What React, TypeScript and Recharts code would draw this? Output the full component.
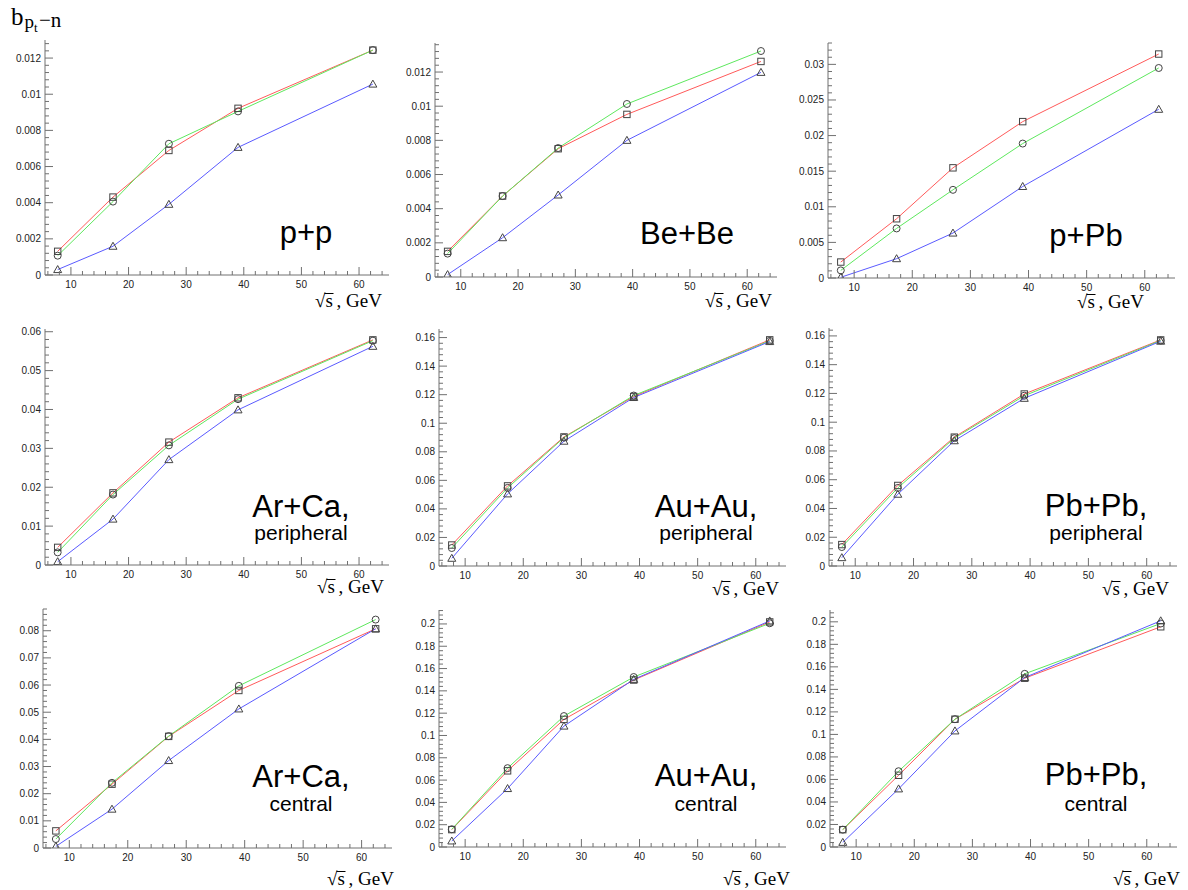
import React from 'react';
import { LineChart, Line, XAxis, YAxis } from 'recharts';

// ---------- data ----------
const sqrtS = [7.7, 17.3, 27, 39, 62.4];
const xMajorTicks = [10, 20, 30, 40, 50, 60];

// p+p
const ppSquare = [0.00131, 0.00431, 0.00689, 0.00922, 0.01244];
const ppCircle = [0.00107, 0.00406, 0.00726, 0.00905, 0.01244];
const ppTriangle = [0.0003, 0.00159, 0.00391, 0.00706, 0.01056];
// Be+Be
const bebeSquare = [0.0015, 0.00474, 0.00751, 0.00952, 0.01262];
const bebeCircle = [0.00137, 0.00474, 0.00755, 0.01013, 0.01323];
const bebeTriangle = [0.00014, 0.0023, 0.0048, 0.008, 0.01198];
// p+Pb
const ppbSquare = [0.00224, 0.00832, 0.01547, 0.02196, 0.03145];
const ppbCircle = [0.00107, 0.00696, 0.01238, 0.01888, 0.02949];
const ppbTriangle = [0.0001, 0.00271, 0.00631, 0.01285, 0.02369];
// Ar+Ca peripheral
const arcaPerSquare = [0.00453, 0.01855, 0.0316, 0.043, 0.0579];
const arcaPerCircle = [0.00325, 0.01812, 0.03077, 0.04265, 0.0577];
const arcaPerTriangle = [0.00085, 0.0118, 0.0271, 0.0399, 0.05624];
// Au+Au peripheral
const auauPerSquare = [0.0147, 0.0561, 0.0904, 0.1187, 0.1584];
const auauPerCircle = [0.0126, 0.0547, 0.0899, 0.1194, 0.1577];
const auauPerTriangle = [0.0054, 0.0505, 0.0874, 0.118, 0.1572];
// Pb+Pb peripheral
const pbpbPerSquare = [0.0149, 0.056, 0.0896, 0.1196, 0.1572];
const pbpbPerCircle = [0.0132, 0.0543, 0.0889, 0.1184, 0.1568];
const pbpbPerTriangle = [0.0058, 0.0499, 0.0871, 0.1166, 0.1563];
// Ar+Ca central
const arcaCenSquare = [0.0063, 0.0235, 0.0411, 0.058, 0.0807];
const arcaCenCircle = [0.0033, 0.024, 0.0412, 0.0597, 0.0841];
const arcaCenTriangle = [0.0006, 0.0143, 0.0322, 0.0512, 0.0807];
// Au+Au central
const auauCenSquare = [0.0156, 0.0683, 0.1144, 0.1497, 0.2018];
const auauCenCircle = [0.0159, 0.0707, 0.1174, 0.1524, 0.2006];
const auauCenTriangle = [0.0054, 0.0524, 0.1084, 0.1503, 0.2027];
// Pb+Pb central
const pbpbCenSquare = [0.0154, 0.0637, 0.1135, 0.1499, 0.1956];
const pbpbCenCircle = [0.0154, 0.0673, 0.1135, 0.1538, 0.1985];
const pbpbCenTriangle = [0.0041, 0.0516, 0.1031, 0.1505, 0.2009];

// y tick labels
const yTicksSmall = [0, 0.002, 0.004, 0.006, 0.008, 0.01, 0.012];
const yTicksPPb = [0, 0.005, 0.01, 0.015, 0.02, 0.025, 0.03];
const yTicksArCaPer = [0, 0.01, 0.02, 0.03, 0.04, 0.05, 0.06];
const yTicksPer = [0, 0.02, 0.04, 0.06, 0.08, 0.1, 0.12, 0.14, 0.16];
const yTicksArCaCen = [0, 0.01, 0.02, 0.03, 0.04, 0.05, 0.06, 0.07, 0.08];
const yTicksCen = [0, 0.02, 0.04, 0.06, 0.08, 0.1, 0.12, 0.14, 0.16, 0.18, 0.2];

const titles = ['p+p', 'Be+Be', 'p+Pb', 'Ar+Ca,', 'Au+Au,', 'Pb+Pb,', 'Ar+Ca,', 'Au+Au,', 'Pb+Pb,'];
const subtitles = ['', '', '', 'peripheral', 'peripheral', 'peripheral', 'central', 'central', 'central'];

const panels = [
  { sq: ppSquare, ci: ppCircle, tr: ppTriangle, yMajors: yTicksSmall, yMinor: 0.0004, yMax: 0.013 },
  { sq: bebeSquare, ci: bebeCircle, tr: bebeTriangle, yMajors: yTicksSmall, yMinor: 0.0004, yMax: 0.0137 },
  { sq: ppbSquare, ci: ppbCircle, tr: ppbTriangle, yMajors: yTicksPPb, yMinor: 0.001, yMax: 0.033 },
  { sq: arcaPerSquare, ci: arcaPerCircle, tr: arcaPerTriangle, yMajors: yTicksArCaPer, yMinor: 0.002, yMax: 0.0607 },
  { sq: auauPerSquare, ci: auauPerCircle, tr: auauPerTriangle, yMajors: yTicksPer, yMinor: 0.004, yMax: 0.166 },
  { sq: pbpbPerSquare, ci: pbpbPerCircle, tr: pbpbPerTriangle, yMajors: yTicksPer, yMinor: 0.004, yMax: 0.1655 },
  { sq: arcaCenSquare, ci: arcaCenCircle, tr: arcaCenTriangle, yMajors: yTicksArCaCen, yMinor: 0.002, yMax: 0.088 },
  { sq: auauCenSquare, ci: auauCenCircle, tr: auauCenTriangle, yMajors: yTicksCen, yMinor: 0.004, yMax: 0.2125 },
  { sq: pbpbCenSquare, ci: pbpbCenCircle, tr: pbpbCenTriangle, yMajors: yTicksCen, yMinor: 0.004, yMax: 0.2105 },
];

// ---------- layout ----------
const frames = [
  { L: 45, T: 40, R: 389, B: 275 },
  { L: 435, T: 43, R: 777, B: 277 },
  { L: 828, T: 43, R: 1175, B: 278 },
  { L: 45, T: 329, R: 389, B: 565 },
  { L: 439, T: 329, R: 786, B: 566 },
  { L: 829, T: 328, R: 1177, B: 566 },
  { L: 43, T: 609, R: 392, B: 848 },
  { L: 439, T: 610, R: 786, B: 847 },
  { L: 830, T: 610, R: 1177, B: 847 },
];
const titlePos = [
  { cx: 306, by: 243, sy: 0 },
  { cx: 687, by: 244, sy: 0 },
  { cx: 1086, by: 246, sy: 0 },
  { cx: 301, by: 517, sy: 540 },
  { cx: 706, by: 517, sy: 540 },
  { cx: 1096, by: 516, sy: 540 },
  { cx: 301, by: 787, sy: 811 },
  { cx: 706, by: 786, sy: 811 },
  { cx: 1096, by: 785, sy: 811 },
];
const xLabelPos = [
  { x: 315, y: 307 },
  { x: 705, y: 307 },
  { x: 1077, y: 308 },
  { x: 317, y: 593 },
  { x: 712, y: 595 },
  { x: 1102, y: 595 },
  { x: 327, y: 885 },
  { x: 723, y: 885 },
  { x: 1113, y: 885 },
];

const X_DOMAIN: [number, number] = [5.5, 65.2];
const AX = '#707070';
const LBL = '#222';
const SANS = 'Liberation Sans, Arial, Helvetica, sans-serif';
const SERIF = 'Liberation Serif, Times New Roman, serif';
const RED = '#ff5a5a';
const GREEN = '#5ee85e';
const BLUE = '#5a5aff';
const MK = '#444';

const fmt = (v: number) => String(parseFloat(v.toFixed(5)));

function stepTicks(step: number, from: number, to: number) {
  const out: number[] = [];
  for (let k = Math.ceil(from / step - 1e-9); k * step <= to + 1e-12; k++) out.push(parseFloat((k * step).toFixed(6)));
  return out;
}
const xAllTicks = stepTicks(2, X_DOMAIN[0], X_DOMAIN[1]);

const isIn = (arr: number[], v: number) => arr.some((m) => Math.abs(m - v) < 1e-9);

const makeYTick = (majors: number[]) => (p: any) => {
  const v = p.payload.value;
  const maj = isIn(majors, v);
  const len = maj ? 8 : 4;
  return (
    <g key={`yt${p.index}`}>
      <line x1={p.x} y1={p.y} x2={p.x + len} y2={p.y} stroke={AX} strokeWidth={1} />
      {maj && (
        <text x={p.x - 4} y={p.y} dy="0.35em" textAnchor="end" fontSize={10} fill={LBL} fontFamily={SANS}>
          {fmt(v)}
        </text>
      )}
    </g>
  );
};

const XTick = (p: any) => {
  const v = p.payload.value;
  const maj = isIn(xMajorTicks, v);
  const len = maj ? 8 : 4;
  return (
    <g key={`xt${p.index}`}>
      <line x1={p.x} y1={p.y} x2={p.x} y2={p.y - len} stroke={AX} strokeWidth={1} />
      {maj && (
        <text x={p.x} y={p.y + 13} textAnchor="middle" fontSize={10} fill={LBL} fontFamily={SANS}>
          {fmt(v)}
        </text>
      )}
    </g>
  );
};

const squareDot = (p: any) =>
  p.cx == null ? <g key={`s${p.index}`} /> : (
    <rect key={`s${p.index}`} x={p.cx - 3.2} y={p.cy - 3.2} width={6.4} height={6.4} fill="none" stroke={MK} strokeWidth={1} />
  );
const circleDot = (p: any) =>
  p.cx == null ? <g key={`c${p.index}`} /> : (
    <circle key={`c${p.index}`} cx={p.cx} cy={p.cy} r={3.5} fill="none" stroke={MK} strokeWidth={1} />
  );
const triangleDot = (p: any) =>
  p.cx == null ? <g key={`t${p.index}`} /> : (
    <path key={`t${p.index}`} d={`M${p.cx},${p.cy - 4} L${p.cx - 4},${p.cy + 3} L${p.cx + 4},${p.cy + 3} Z`} fill="none" stroke={MK} strokeWidth={1} />
  );

function Panel({ idx }: { idx: number }) {
  const cfg = panels[idx];
  const f = frames[idx];
  const data = sqrtS.map((x, i) => ({ x, sq: cfg.sq[i], ci: cfg.ci[i], tr: cfg.tr[i] }));
  const yl = 50;
  const mt = 5;
  const mr = 5;
  const xh = 25;
  const W = f.R - f.L;
  const H = f.B - f.T;
  const yAll = stepTicks(cfg.yMinor, 0, cfg.yMax);
  return (
    <div style={{ position: 'absolute', left: f.L - yl, top: f.T - mt }}>
      <LineChart width={yl + W + mr} height={mt + H + xh} data={data} margin={{ top: mt, right: mr, bottom: 0, left: 0 }}>
        <XAxis
          dataKey="x"
          type="number"
          domain={X_DOMAIN}
          allowDataOverflow
          ticks={xAllTicks}
          interval={0}
          tick={XTick}
          tickLine={false}
          tickSize={0}
          tickMargin={0}
          axisLine={{ stroke: AX }}
          height={xh}
        />
        <XAxis xAxisId="top" orientation="top" type="number" domain={X_DOMAIN} allowDataOverflow height={0} tick={false} tickLine={false} axisLine={{ stroke: AX }} />
        <YAxis
          type="number"
          domain={[0, cfg.yMax]}
          allowDataOverflow
          ticks={yAll}
          interval={0}
          tick={makeYTick(cfg.yMajors)}
          tickLine={false}
          tickSize={0}
          tickMargin={0}
          axisLine={{ stroke: AX }}
          width={yl}
        />
        <YAxis yAxisId="right" orientation="right" type="number" domain={[0, cfg.yMax]} allowDataOverflow width={0} tick={false} tickLine={false} axisLine={{ stroke: AX }} />
        <Line dataKey="sq" stroke={RED} strokeWidth={1} dot={squareDot} activeDot={false} isAnimationActive={false} />
        <Line dataKey="ci" stroke={GREEN} strokeWidth={1} dot={circleDot} activeDot={false} isAnimationActive={false} />
        <Line dataKey="tr" stroke={BLUE} strokeWidth={1} dot={triangleDot} activeDot={false} isAnimationActive={false} />
      </LineChart>
    </div>
  );
}

function Overlay() {
  return (
    <svg width={1188} height={890} style={{ position: 'absolute', left: 0, top: 0, pointerEvents: 'none' }}>
      {/* y title */}
      <text fontFamily={SERIF} fill="#000">
        <tspan x={11} y={25} fontSize={25}>b</tspan>
        <tspan x={24.5} y={28} fontSize={19}>p</tspan>
        <tspan x={34} y={32} fontSize={13}>t</tspan>
        <tspan x={39} y={27} fontSize={21}>−n</tspan>
      </text>
      {titles.map((t, i) => (
        <g key={`ti${i}`}>
          <text x={titlePos[i].cx} y={titlePos[i].by} textAnchor="middle" fontSize={31} fontFamily={SANS} fill="#000">
            {t}
          </text>
          {subtitles[i] && (
            <text x={titlePos[i].cx} y={titlePos[i].sy} textAnchor="middle" fontSize={21} fontFamily={SANS} fill="#000">
              {subtitles[i]}
            </text>
          )}
        </g>
      ))}
      {xLabelPos.map((p, i) => (
        <g key={`xl${i}`} transform={`translate(${p.x},${p.y})`} fontFamily={SERIF} fill="#000">
          <text x={0} y={0} fontSize={19}>√</text>
          <line x1={9.5} y1={-13.5} x2={18.5} y2={-13.5} stroke="#000" strokeWidth={1} />
          <text x={10.5} y={0} fontSize={19}>s</text>
          <text x={21.5} y={0} fontSize={19}>, GeV</text>
        </g>
      ))}
    </svg>
  );
}

export default function App() {
  return (
    <div style={{ position: 'absolute', left: 0, top: 0, width: 1188, height: 890, background: '#fff', overflow: 'hidden' }}>
      {panels.map((_, i) => (
        <Panel key={i} idx={i} />
      ))}
      <Overlay />
    </div>
  );
}
